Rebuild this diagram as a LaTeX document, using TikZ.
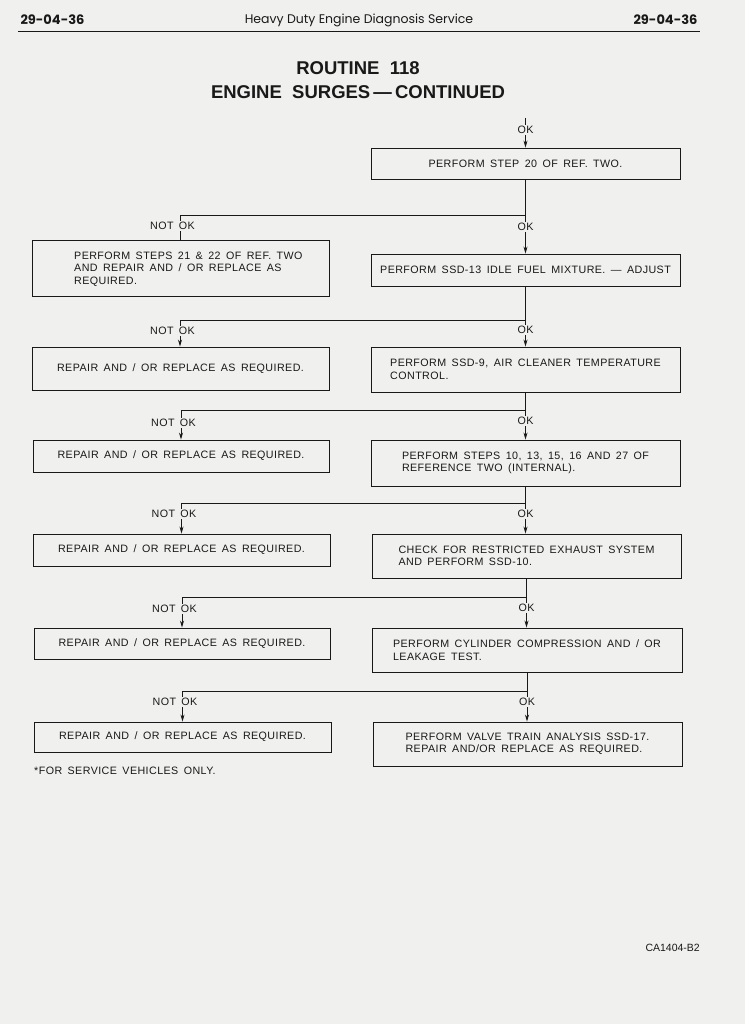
\documentclass[tikz,border=0pt]{standalone}
\usepackage{fontspec}
\setmainfont{Liberation Sans}
\newfontfamily\boxfont[LetterSpace=4,WordSpace=1.6]{Liberation Sans}
\newfontfamily\headfont{Poppins}
\newfontfamily\titlefont{Liberation Sans}
\usetikzlibrary{arrows.meta}
\definecolor{paper}{RGB}{240,240,238}
\definecolor{ink}{RGB}{25,25,25}
\begin{document}
\begin{tikzpicture}[x=1pt,y=-1pt,
  every node/.style={text=ink},
  box/.style={draw=ink,line width=0.9pt,inner sep=0pt,align=left,font=\boxfont\fontsize{10.7}{12.5}\selectfont},
  txt/.style={inner sep=0pt,align=left,font=\boxfont\fontsize{10.7}{12.5}\selectfont},
  lab/.style={inner xsep=0pt,inner ysep=1pt,fill=paper,font=\boxfont\fontsize{10.7}{12}\selectfont},
  wire/.style={draw=ink,line width=0.8pt},
  arr/.style={wire,-{Stealth[length=7pt,width=4pt]}}]
\useasboundingbox[fill=paper] (0,0) rectangle (745,1024);
% header
\node[font=\headfont\bfseries\fontsize{13}{14}\selectfont,anchor=west] (hl) at (17,20) {29-04-36};
\node[font=\headfont\fontsize{12.5}{14}\selectfont] (hc) at (359,20) {Heavy Duty Engine Diagnosis Service};
\node[font=\headfont\bfseries\fontsize{13}{14}\selectfont,anchor=east] (hr) at (701,20) {29-04-36};
\draw[draw=ink,line width=1.6pt] (18,31.5) -- (700,31.5);
\node[font=\titlefont\bfseries\fontsize{18.5}{22}\selectfont] (t1) at (358,68) {ROUTINE\ \ 118};
\node[font=\titlefont\bfseries\fontsize{18.5}{22}\selectfont] (t2) at (358,92) {ENGINE\ \ SURGES\,—\,CONTINUED};
% boxes right
\node[box,minimum width=309pt,minimum height=31pt] (b1) at (525.5,163.5) {PERFORM STEP 20 OF REF. TWO.};
\node[box,minimum width=309pt,minimum height=32pt] (b2R) at (525.5,270) {PERFORM SSD-13 IDLE FUEL MIXTURE. — ADJUST};
\node[box,minimum width=309pt,minimum height=45pt] (b3R) at (525.5,369.5) {PERFORM SSD-9, AIR CLEANER TEMPERATURE\\CONTROL.};
\node[box,minimum width=309pt,minimum height=46pt] (b4R) at (525.5,463) {PERFORM STEPS 10, 13, 15, 16 AND 27 OF\\REFERENCE TWO (INTERNAL).};
\node[box,minimum width=309pt,minimum height=44pt] (b5R) at (526.5,556) {CHECK FOR RESTRICTED EXHAUST SYSTEM\\AND PERFORM SSD-10.};
\node[box,minimum width=310pt,minimum height=44pt] (b6R) at (527,650) {PERFORM CYLINDER COMPRESSION AND / OR\\LEAKAGE TEST.};
\node[box,minimum width=309pt,minimum height=44pt] (b7R) at (527.5,744) {PERFORM VALVE TRAIN ANALYSIS SSD-17.\\REPAIR AND/OR REPLACE AS REQUIRED.};
% boxes left
\node[box,minimum width=297pt,minimum height=56pt] (b2L) at (180.5,268) {};
\node[txt,anchor=west] (b2Lt) at (74,269) {PERFORM STEPS 21 \& 22 OF REF. TWO\\AND REPAIR AND / OR REPLACE AS\\REQUIRED.};
\node[box,minimum width=297pt,minimum height=43pt] (b3L) at (180.5,368.5) {REPAIR AND / OR REPLACE AS REQUIRED.};
\node[box,minimum width=296pt,minimum height=32pt] (b4L) at (181,456) {REPAIR AND / OR REPLACE AS REQUIRED.};
\node[box,minimum width=297pt,minimum height=32pt] (b5L) at (181.5,550) {REPAIR AND / OR REPLACE AS REQUIRED.};
\node[box,minimum width=296pt,minimum height=31pt] (b6L) at (182,643.5) {REPAIR AND / OR REPLACE AS REQUIRED.};
\node[box,minimum width=297pt,minimum height=30pt] (b7L) at (182.5,737) {REPAIR AND / OR REPLACE AS REQUIRED.};
% junction coordinates
\coordinate (top) at (525.5,118);
\coordinate (j1R) at (b1.south |- 0,215);  \coordinate (j1L) at (180,215);
\coordinate (j2R) at (b2R.south |- 0,320); \coordinate (j2L) at (180,320);
\coordinate (j3R) at (b3R.south |- 0,410); \coordinate (j3L) at (181,410);
\coordinate (j4R) at (b4R.south |- 0,503); \coordinate (j4L) at (181.5,503);
\coordinate (j5R) at (b5R.south |- 0,597); \coordinate (j5L) at (182,597);
\coordinate (j6R) at (b6R.south |- 0,691); \coordinate (j6L) at (182.5,691);
% connectors
\draw[arr] (top) -- (b1.north);
\draw[wire] (b1.south) -- (j1R) -- (j1L) -- (j1L |- b2L.north);
\draw[arr] (j1R) -- (j1R |- b2R.north);
\draw[wire] (b2R.south) -- (j2R) -- (j2L);
\draw[arr] (j2L) -- (j2L |- b3L.north);
\draw[arr] (j2R) -- (j2R |- b3R.north);
\draw[wire] (b3R.south) -- (j3R) -- (j3L);
\draw[arr] (j3L) -- (j3L |- b4L.north);
\draw[arr] (j3R) -- (j3R |- b4R.north);
\draw[wire] (b4R.south) -- (j4R) -- (j4L);
\draw[arr] (j4L) -- (j4L |- b5L.north);
\draw[arr] (j4R) -- (j4R |- b5R.north);
\draw[wire] (b5R.south) -- (j5R) -- (j5L);
\draw[arr] (j5L) -- (j5L |- b6L.north);
\draw[arr] (j5R) -- (j5R |- b6R.north);
\draw[wire] (b6R.south) -- (j6R) -- (j6L);
\draw[arr] (j6L) -- (j6L |- b7L.north);
\draw[arr] (j6R) -- (j6R |- b7R.north);
% labels
\node[lab] (ok0) at (525.5,130) {OK};
\node[lab] (n1) at (172.5,226) {NOT OK};
\node[lab] (o1) at (525.5,227) {OK};
\node[lab] (n2) at (172.5,331) {NOT OK};
\node[lab] (o2) at (525.5,330) {OK};
\node[lab] (n3) at (173.5,423) {NOT OK};
\node[lab] (o3) at (525.5,421) {OK};
\node[lab] (n4) at (174,514) {NOT OK};
\node[lab] (o4) at (525.5,514) {OK};
\node[lab] (n5) at (174.5,609) {NOT OK};
\node[lab] (o5) at (526.5,608) {OK};
\node[lab] (n6) at (175,702) {NOT OK};
\node[lab] (o6) at (527,702) {OK};
% footnotes
\node[txt,anchor=west] (fn) at (34,771) {*FOR SERVICE VEHICLES ONLY.};
\node[font=\fontsize{10.5}{12}\selectfont,anchor=east,inner sep=0pt] (code) at (700,948) {CA1404-B2};
\end{tikzpicture}
\end{document}
